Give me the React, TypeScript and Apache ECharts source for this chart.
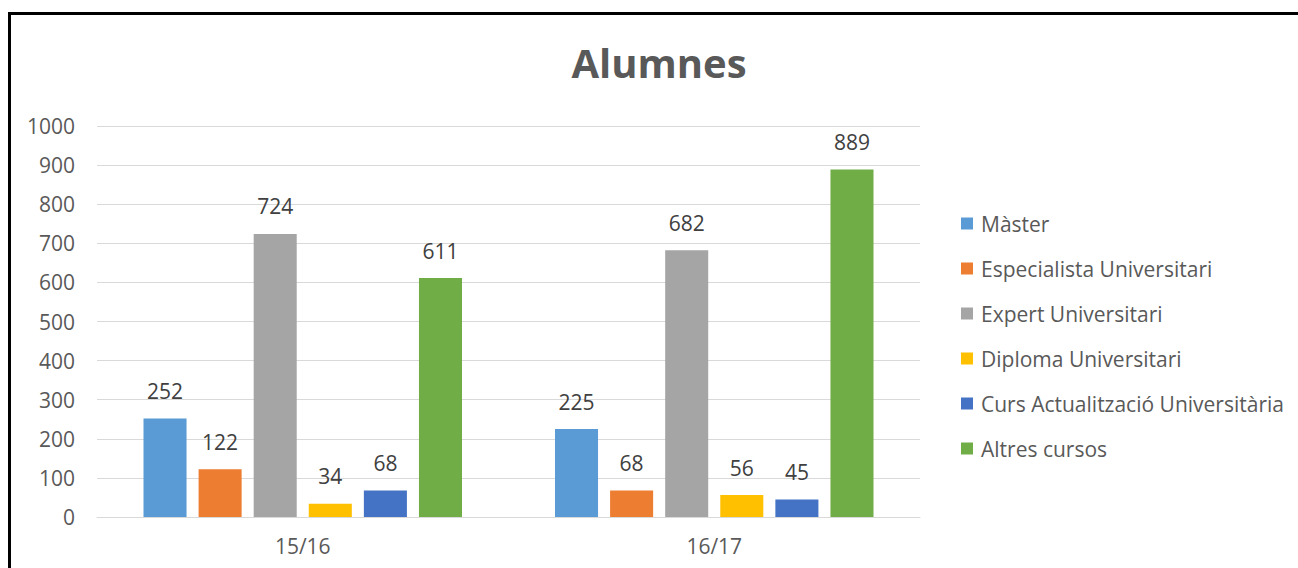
import React, { useEffect, useRef } from "react";
import * as echarts from "echarts";

const categories = ["15/16", "16/17"];
const seriesNames = [
  "Màster",
  "Especialista Universitari",
  "Expert Universitari",
  "Diploma Universitari",
  "Curs Actualització Universitària",
  "Altres cursos",
];
const master = [252, 225];
const especialista = [122, 68];
const expert = [724, 682];
const diploma = [34, 56];
const curs = [68, 45];
const altres = [611, 889];
const colors = ["#5B9BD5", "#ED7D31", "#A5A5A5", "#FFC000", "#4472C4", "#70AD47"];

const FONT = "'Open Sans', 'Noto Sans', sans-serif";

export default function App() {
  const ref = useRef<HTMLDivElement>(null);
  useEffect(() => {
    if (!ref.current) return;
    const chart = echarts.init(ref.current, undefined, { renderer: "svg" });
    const values = [master, especialista, expert, diploma, curs, altres];
    chart.setOption({
      animation: false,
      backgroundColor: "#fff",
      title: {
        text: "Alumnes",
        left: 654,
        top: 37,
        textAlign: "center",
        textStyle: { fontFamily: FONT, fontSize: 40, fontWeight: "bold", color: "#595959" },
      },
      graphic: [
        {
          type: "rect",
          shape: { x: 9.5, y: 13.5, width: 1400, height: 700 },
          style: { fill: "none", stroke: "#000", lineWidth: 3 },
          silent: true,
        },
      ],
      legend: {
        orient: "vertical",
        left: 961,
        top: 213,
        padding: 0,
        itemWidth: 12,
        itemHeight: 12,
        itemGap: 24,
        icon: "rect",
        textStyle: {
          fontFamily: FONT,
          fontSize: 21,
          color: "#595959",
          lineHeight: 21,
          padding: [0, 0, 0, 3],
        },
        data: seriesNames,
      },
      grid: { left: 97, right: 378, top: 126, bottom: 51, containLabel: false },
      xAxis: {
        type: "category",
        data: categories,
        axisLine: { lineStyle: { color: "#D9D9D9", width: 1 } },
        axisTick: { show: false },
        axisLabel: { fontFamily: FONT, fontSize: 21, color: "#595959", margin: 18 },
      },
      yAxis: {
        type: "value",
        min: 0,
        max: 1000,
        interval: 100,
        axisLine: { show: false },
        axisTick: { show: false },
        splitLine: { lineStyle: { color: "#D9D9D9", width: 1 } },
        axisLabel: {
          fontFamily: FONT,
          fontSize: 21,
          color: "#595959",
          margin: 22,
          formatter: (v: number) => String(v),
        },
      },
      series: seriesNames.map((name, i) => ({
        name,
        type: "bar",
        data: values[i],
        itemStyle: { color: colors[i] },
        barGap: "28%",
        barCategoryGap: "22.6%",
        label: {
          show: true,
          position: "top",
          distance: 17,
          fontFamily: FONT,
          fontSize: 21,
          color: "#404040",
        },
      })),
    });
    return () => chart.dispose();
  }, []);
  return (
    <div
      ref={ref}
      style={{ position: "fixed", left: 0, top: 0, width: 1298, height: 568 }}
    />
  );
}
